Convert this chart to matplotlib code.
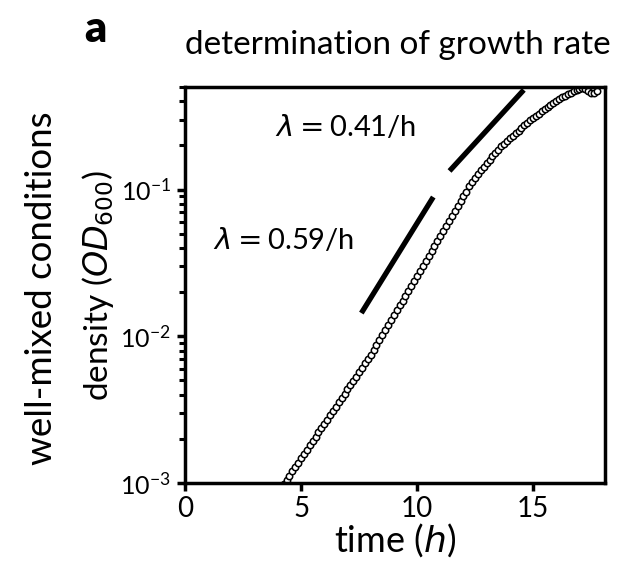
import matplotlib
matplotlib.use("Agg")
import matplotlib.pyplot as plt
from matplotlib.ticker import LogLocator, NullFormatter

plt.rcParams['font.family'] = ['Lato', 'DejaVu Sans']
plt.rcParams['mathtext.fontset'] = 'dejavusans'

# ---- data ----
time_h = [4.25, 4.375, 4.5, 4.625, 4.75, 4.875, 5.0, 5.125, 5.25, 5.375,
          5.5, 5.625, 5.75, 5.875, 6.0, 6.125, 6.25, 6.375, 6.5, 6.625,
          6.75, 6.875, 7.0, 7.125, 7.25, 7.375, 7.5, 7.625, 7.75, 7.875,
          8.0, 8.125, 8.25, 8.375, 8.5, 8.625, 8.75, 8.875, 9.0, 9.125,
          9.25, 9.375, 9.5, 9.625, 9.75, 9.875, 10.0, 10.125, 10.25, 10.375,
          10.5, 10.625, 10.75, 10.875, 11.0, 11.125, 11.25, 11.375, 11.5, 11.625,
          11.75, 11.875, 12.0, 12.125, 12.25, 12.375, 12.5, 12.625, 12.75, 12.875,
          13.0, 13.125, 13.25, 13.375, 13.5, 13.625, 13.75, 13.875, 14.0, 14.125,
          14.25, 14.375, 14.5, 14.625, 14.75, 14.875, 15.0, 15.125, 15.25, 15.375,
          15.5, 15.625, 15.75, 15.875, 16.0, 16.125, 16.25, 16.375, 16.5, 16.625,
          16.75, 16.875, 17.0, 17.125, 17.25, 17.375, 17.5, 17.625, 17.75]

density_od600 = [0.982e-3, 1.050e-3, 1.124e-3, 1.202e-3, 1.288e-3, 1.377e-3, 1.472e-3, 1.578e-3, 1.687e-3, 1.803e-3,
                 1.932e-3, 2.065e-3, 2.213e-3, 2.366e-3, 2.529e-3, 2.710e-3, 2.897e-3, 3.097e-3, 3.319e-3, 3.548e-3,
                 3.802e-3, 4.064e-3, 4.345e-3, 4.656e-3, 4.977e-3, 5.321e-3, 5.702e-3, 6.095e-3, 6.531e-3, 6.982e-3,
                 7.464e-3, 8.07e-3, 8.73e-3, 9.42e-3, 1.019e-2, 1.102e-2, 1.191e-2, 1.285e-2, 1.390e-2, 1.503e-2,
                 1.626e-2, 1.754e-2, 1.897e-2, 2.051e-2, 2.218e-2, 2.393e-2, 2.588e-2, 2.799e-2, 3.027e-2, 3.266e-2,
                 3.532e-2, 3.819e-2, 4.130e-2, 4.457e-2, 4.819e-2, 5.212e-2, 5.636e-2, 6.081e-2, 6.577e-2, 7.112e-2,
                 7.691e-2, 8.299e-2, 8.974e-2, 9.705e-2, 0.1050, 0.1132, 0.1208, 0.1279, 0.1352, 0.1429,
                 0.1510, 0.1596, 0.1683, 0.1774, 0.1871, 0.1972, 0.2061, 0.2148, 0.2239, 0.2328,
                 0.2427, 0.2523, 0.2630, 0.2735, 0.2844, 0.2958, 0.3076, 0.3184, 0.3296, 0.3412,
                 0.3532, 0.3656, 0.3776, 0.3899, 0.4018, 0.4130, 0.4246, 0.4365, 0.4477, 0.4581,
                 0.4688, 0.4786, 0.4864, 0.4898, 0.4842, 0.4732, 0.4571, 0.4519, 0.4677]

fit1_time = [7.6, 10.7]
fit1_od = [0.0144, 0.089]
fit1_label = r'$\lambda = $0.59/h'

fit2_time = [11.4, 14.6]
fit2_od = [0.134, 0.478]
fit2_label = r'$\lambda = $0.41/h'

x_ticks = [0, 5, 10, 15]

# ---- figure ----
fig = plt.figure(figsize=(6.25, 5.66), dpi=100)
ax = fig.add_axes([0.296, 0.1466, 0.672, 0.6996])

ax.plot(time_h, density_od600, linestyle='none', marker='o', markersize=4.6,
        markerfacecolor='white', markeredgecolor='black', markeredgewidth=1.1)
ax.plot(fit1_time, fit1_od, color='black', linewidth=3.8, solid_capstyle='butt')
ax.plot(fit2_time, fit2_od, color='black', linewidth=3.8, solid_capstyle='butt')

ax.set_yscale('log')
ax.set_xlim(0, 18.1)
ax.set_ylim(1e-3, 0.5)
ax.set_xticks(x_ticks)
ax.set_xticklabels([str(v) for v in x_ticks])
ax.yaxis.set_major_locator(LogLocator(base=10, numticks=10))
ax.yaxis.set_minor_locator(LogLocator(base=10, subs=range(2, 10), numticks=20))
ax.yaxis.set_minor_formatter(NullFormatter())

for s in ax.spines.values():
    s.set_linewidth(2.5)
ax.tick_params(axis='x', which='major', direction='out', length=6, width=2.5,
               labelsize=20, pad=3)
ax.tick_params(axis='y', which='major', direction='out', length=6, width=2.5,
               labelsize=18, pad=4)
ax.tick_params(axis='y', which='minor', direction='out', length=4, width=2.2)

ax.set_xlabel(r'time ($h$)', fontsize=26, labelpad=0)
ax.set_ylabel(r'density ($OD_{600}$)', fontsize=24, labelpad=3)

ax.text(0.214, 0.899, fit2_label, transform=ax.transAxes, fontsize=21,
        ha='left', va='center')
ax.text(0.067, 0.614, fit1_label, transform=ax.transAxes, fontsize=21,
        ha='left', va='center')

fig.text(0.637, 0.92, 'determination of growth rate', fontsize=24,
         ha='center', va='center')
fig.text(0.152, 0.948, 'a', fontsize=31, fontweight='heavy', ha='center', va='center')
fig.text(0.066, 0.49, 'well-mixed conditions', fontsize=26.5, rotation=90,
         ha='center', va='center')

fig.savefig('out.png', dpi=100)
